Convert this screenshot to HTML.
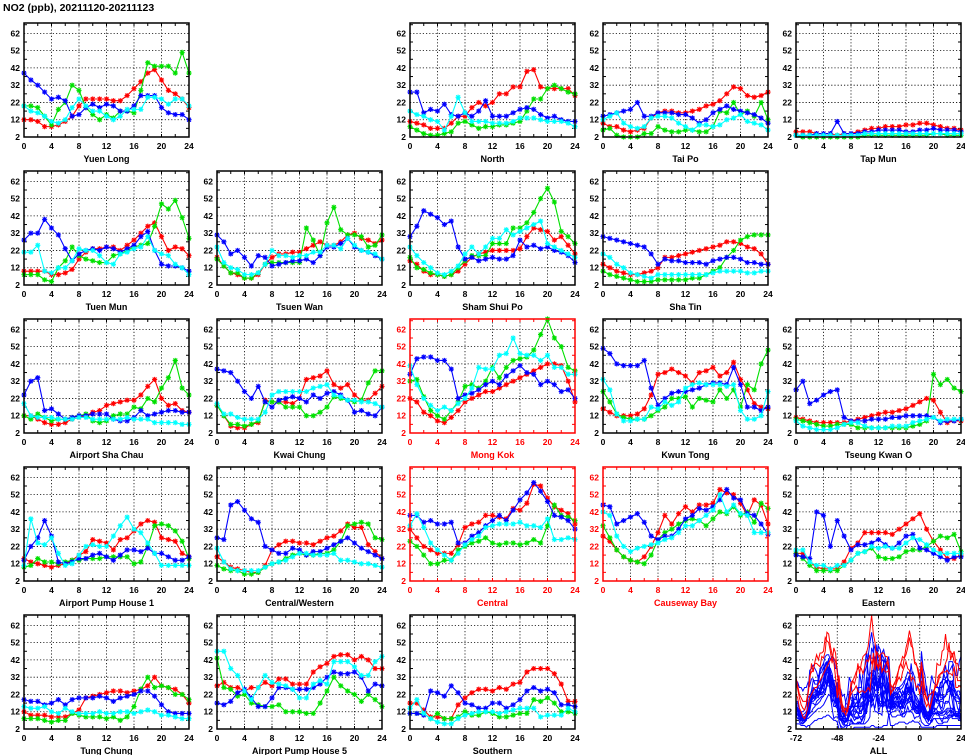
<!DOCTYPE html>
<html><head><meta charset="utf-8">
<style>
html,body{margin:0;padding:0;background:#fff;}
svg{display:block;font-family:"Liberation Sans",sans-serif;}
</style></head>
<body>
<svg id="chart" width="965" height="755" viewBox="0 0 965 755" xmlns="http://www.w3.org/2000/svg">
<text x="3" y="11" font-size="10.5" font-weight="bold" fill="#000">NO2 (ppb), 20211120-20211123</text>
</svg>
<script>
const stationNames = ["Yuen Long","North","Tai Po","Tap Mun","Tuen Mun","Tsuen Wan","Sham Shui Po","Sha Tin","Airport Sha Chau","Kwai Chung","Mong Kok","Kwun Tong","Tseung Kwan O","Airport Pump House 1","Central/Western","Central","Causeway Bay","Eastern","Tung Chung","Airport Pump House 5","Southern"];
const stationCells = [[0,0],[2,0],[3,0],[4,0],[0,1],[1,1],[2,1],[3,1],[0,2],[1,2],[2,2],[3,2],[4,2],[0,3],[1,3],[2,3],[3,3],[4,3],[0,4],[1,4],[2,4]];
const roadsideStations = ["Mong Kok","Central","Causeway Bay"];
const hours = [0,1,2,3,4,5,6,7,8,9,10,11,12,13,14,15,16,17,18,19,20,21,22,23,24];
const xTicks = [0,4,8,12,16,20,24];
const yTicks = [2,12,22,32,42,52,62];
const allXTicks = [-72,-48,-24,0,24];
const dayColors = ["#ff0000","#00e000","#0000ff","#00ffff"];
// series per station: day20(red), day21(green), day22(blue), day23(cyan)
const day20 = [
[12,12,11,8,8,9,11,14,20,24,24,24,24,23,23,26,30,34,39,41,35,29,27,24,19],
[11,10,9,7,7,7,10,14,14,19,22,20,22,27,27,31,31,40,41,31,30,30,30,30,26],
[10,8,8,6,5,6,7,13,16,17,17,16,16,17,18,20,21,23,27,31,30,26,25,26,28],
[5,5,5,4,4,4,3,4,4,5,6,7,7,8,8,8,9,9,10,10,9,8,7,7,6],
[10,10,10,10,8,8,9,11,17,21,23,23,24,24,22,25,28,32,36,38,30,22,24,23,19],
[18,13,9,8,6,6,8,14,18,20,20,21,21,23,25,27,25,25,27,31,32,29,28,26,28],
[16,14,10,8,8,7,8,10,14,18,20,21,22,22,22,22,23,30,35,34,33,28,30,25,20],
[14,12,10,9,8,8,9,10,12,18,18,19,20,21,22,23,24,25,27,27,26,24,23,20,14],
[12,12,10,8,7,7,8,10,11,12,14,15,18,19,20,21,21,24,29,33,22,18,19,15,14],
[18,12,6,5,5,7,8,21,20,20,20,19,22,33,34,35,38,30,28,30,24,21,21,25,29],
[22,20,14,12,9,8,11,15,20,22,24,26,26,28,30,32,34,36,38,40,42,42,41,32,20],
[16,14,12,12,12,13,16,24,36,37,39,37,35,31,37,38,40,35,37,43,33,27,19,17,16],
[11,10,9,8,8,8,8,8,9,10,11,12,13,14,14,15,16,18,20,22,21,14,8,9,9],
[15,13,12,11,10,11,12,14,17,19,26,25,24,20,26,27,31,35,37,36,27,26,25,18,16],
[16,13,10,9,8,7,7,11,20,23,25,25,24,24,23,25,27,28,31,35,33,33,23,19,15],
[32,27,22,20,18,18,18,23,33,35,36,40,40,39,38,44,43,47,58,57,50,45,43,41,35],
[28,25,20,16,14,13,16,22,30,40,35,41,45,42,46,46,47,55,53,52,47,40,49,46,35],
[18,18,13,10,9,9,9,13,21,24,30,30,30,30,29,32,35,38,41,32,25,20,15,15,17],
[12,10,10,10,9,9,9,11,13,20,21,22,23,24,24,23,24,25,27,32,27,26,25,22,17],
[27,29,26,26,24,26,26,29,27,31,31,28,28,28,35,38,40,44,45,45,42,44,42,37,37],
[17,17,13,9,9,8,8,16,20,23,25,25,24,26,25,28,29,35,37,37,37,34,28,18,18]];
const day21 = [
[20,20,19,14,9,18,22,32,29,19,15,12,15,13,17,17,16,29,45,43,43,43,39,51,39],
[8,6,4,3,3,4,5,10,11,9,7,8,8,9,9,10,11,17,24,24,30,32,30,28,27],
[6,7,3,2,2,2,4,4,8,6,5,5,6,6,5,5,8,17,16,22,15,17,14,22,12],
[3,2,2,2,2,2,2,2,2,2,3,3,3,3,3,3,3,3,3,3,4,4,3,3,3],
[8,8,8,5,4,12,16,24,19,17,16,15,15,19,20,22,24,25,26,36,49,46,51,41,29],
[17,13,9,9,6,6,9,14,15,15,15,15,15,35,28,19,38,47,34,31,31,30,24,25,31],
[18,12,11,9,8,7,8,12,16,19,19,19,26,26,26,35,35,38,44,52,58,50,33,30,26],
[10,8,7,6,5,4,4,4,5,5,5,5,5,6,6,8,10,12,18,22,28,30,31,31,31],
[12,10,13,11,9,10,10,11,12,13,9,8,9,12,13,13,17,16,22,20,28,34,44,28,24],
[18,12,7,7,6,7,9,20,20,20,17,17,17,12,12,14,17,23,22,21,20,21,31,38,38],
[32,33,23,15,12,10,15,20,29,30,28,32,40,34,40,44,45,46,50,59,68,57,52,40,38],
[26,20,13,11,10,10,10,12,15,17,22,22,23,17,22,21,20,27,22,27,17,30,27,42,50],
[10,9,8,7,6,6,7,7,7,5,5,5,5,5,5,5,5,6,7,9,36,30,33,28,26],
[10,11,15,13,13,12,13,14,14,15,15,15,16,16,16,16,12,13,22,34,35,34,31,25,15],
[11,9,8,8,6,6,7,10,12,13,15,17,18,17,17,18,18,20,25,34,35,36,35,27,26],
[25,22,17,12,12,14,14,20,22,24,25,27,24,23,24,24,23,24,26,24,34,46,40,39,37],
[34,27,20,16,14,13,12,17,26,30,32,35,37,38,37,34,38,42,41,45,40,42,36,47,44],
[18,15,11,8,8,8,8,11,14,18,19,21,16,15,15,16,19,20,20,22,25,28,27,29,19],
[8,8,8,7,6,7,7,11,10,9,9,9,8,9,7,9,15,25,32,26,27,26,22,22,19],
[43,26,25,21,22,17,16,15,15,16,12,12,12,11,11,17,24,32,27,24,22,18,22,19,15],
[11,11,11,8,11,8,8,9,12,10,10,12,11,9,9,10,11,11,19,18,20,17,12,12,11]];
const day22 = [
[39,35,32,28,24,25,23,14,15,19,21,19,21,20,17,17,20,26,26,26,19,16,15,15,12],
[28,28,16,18,17,21,15,14,16,14,17,23,14,14,14,16,18,19,18,15,13,14,12,11,11],
[14,15,16,17,18,22,14,14,16,16,16,15,15,13,10,12,16,18,20,18,17,16,15,13,10],
[3,3,3,4,4,4,11,4,4,4,5,5,6,6,6,6,5,5,6,6,7,6,6,6,5],
[28,32,32,40,35,31,23,16,20,22,23,22,24,23,21,23,25,30,33,22,14,13,13,12,10],
[31,27,20,22,18,13,19,18,13,14,15,16,16,17,15,19,24,24,26,29,24,22,21,19,17],
[30,36,45,43,41,37,39,24,17,18,16,17,18,17,17,19,28,24,25,23,24,22,21,19,15],
[30,29,28,27,26,25,24,20,14,17,16,16,15,15,15,14,16,17,18,18,17,15,15,14,14],
[24,32,34,15,16,13,10,11,12,12,13,13,13,10,9,9,11,15,12,13,14,15,15,14,14],
[39,38,37,32,26,22,29,20,17,21,22,23,22,20,24,22,25,26,24,21,14,15,13,12,17],
[36,45,46,46,44,44,39,22,24,25,27,30,32,30,35,38,41,37,36,30,32,30,26,27,22],
[51,48,42,41,41,41,44,28,18,22,25,26,26,27,28,30,31,31,30,40,30,17,17,15,17],
[27,32,19,21,24,26,27,11,9,9,9,10,10,10,11,11,12,12,12,12,11,8,9,9,10],
[14,22,27,37,28,13,12,13,15,15,17,18,16,14,17,20,20,19,21,18,18,16,14,14,16],
[27,26,46,48,43,38,36,22,20,18,18,21,20,17,19,19,21,23,25,27,24,21,19,17,15],
[40,40,36,37,35,35,36,24,24,28,30,34,37,40,37,43,49,53,59,54,48,40,39,37,32],
[46,45,35,37,39,41,36,28,26,28,28,32,38,40,44,43,45,49,55,50,49,41,40,35,29],
[17,16,15,42,40,22,37,28,20,23,23,24,26,23,21,24,28,29,21,20,18,16,14,16,16],
[19,18,18,16,17,19,16,19,20,20,20,21,20,18,20,21,22,24,24,21,16,12,11,11,11],
[17,16,18,23,25,20,15,15,20,26,26,25,25,25,26,28,32,35,34,34,35,32,24,28,27],
[11,11,10,24,23,21,27,23,17,16,14,14,17,17,14,16,19,24,26,24,25,23,16,16,15]];
const day23 = [
[20,17,16,14,11,10,12,19,24,20,17,17,14,12,14,18,18,18,25,25,24,21,24,24,20],
[17,15,14,12,11,6,14,25,16,11,11,11,10,10,10,11,13,13,13,12,11,11,11,10,8],
[12,14,16,10,8,7,8,13,14,14,13,10,8,6,9,9,8,9,12,13,15,11,10,9,6],
[3,3,3,3,3,3,3,3,3,3,4,4,4,4,4,4,4,4,4,4,4,4,4,4,4],
[21,21,25,10,9,12,12,16,23,22,22,19,15,14,20,21,23,24,30,22,20,19,14,12,8],
[24,15,12,11,8,8,9,14,22,19,19,18,19,19,21,21,25,25,23,29,25,22,21,20,17],
[24,19,15,12,9,8,10,13,20,24,20,24,29,29,34,31,33,35,37,39,26,24,22,20,18],
[20,18,14,12,9,8,7,6,8,8,8,8,8,8,8,8,9,10,10,10,10,9,9,10,10],
[19,12,11,11,11,10,10,10,11,11,10,10,10,10,10,11,10,10,10,8,8,8,8,7,7],
[19,13,13,11,10,10,10,14,24,26,26,26,26,26,28,29,30,24,23,21,21,20,20,19,17],
[41,30,22,18,15,17,15,19,22,28,40,39,39,47,48,57,48,47,47,44,47,40,40,36,36],
[33,27,13,9,9,10,10,17,16,20,18,20,28,30,31,30,30,30,29,30,15,10,10,12,26],
[9,6,5,4,4,4,5,7,8,8,6,5,5,5,6,6,6,8,9,10,11,9,10,10,10],
[11,38,24,23,27,18,11,12,17,22,23,22,22,28,34,39,32,30,24,18,11,11,11,11,11],
[21,13,9,8,8,8,8,10,12,13,14,16,18,18,17,17,17,18,14,14,13,12,12,11,10],
[34,41,33,24,20,17,14,18,23,26,28,33,34,35,35,35,36,34,34,33,38,26,26,27,26],
[42,40,28,22,19,21,22,23,24,26,27,30,34,34,37,40,43,52,42,46,41,40,30,30,30],
[20,20,13,11,11,9,11,11,14,18,19,22,21,22,21,21,24,27,26,23,20,18,18,18,18],
[15,14,14,15,12,11,14,12,11,11,11,12,11,11,12,12,11,12,13,12,10,10,9,8,8],
[47,47,37,33,24,19,26,33,29,28,27,25,20,20,28,30,28,41,41,41,38,33,33,41,44],
[14,19,11,8,6,5,5,8,10,11,12,12,12,11,12,13,14,14,14,9,10,10,10,14,12]];
const allDays = [day20, day21, day22, day23];

const NS = "http://www.w3.org/2000/svg";
const svg = document.getElementById("chart");
const Y_MIN = 2, Y_MAX = 68;
const PW = 165, PH = 114;
function colX(c){return 24 + 193*c;}
function rowBottom(r){return 137 + 148*r;}
function mk(tag, attrs, parent){
  const e = document.createElementNS(NS, tag);
  for (const k in attrs) e.setAttribute(k, attrs[k]);
  (parent||svg).appendChild(e);
  return e;
}
function slug(s){return s.toLowerCase().replace(/[^a-z0-9]+/g,'-').replace(/^-|-$/g,'');}

function drawPanel(cx, cy, name, xmin, xmax, xt, isRoad, seriesFn, markers){
  const x0 = colX(cx), yb = rowBottom(cy), yt = yb - PH;
  const xs = v => x0 + (v - xmin) / (xmax - xmin) * PW;
  const ys = v => yb - (v - Y_MIN) / (Y_MAX - Y_MIN) * PH;
  const fc = isRoad ? "#ff0000" : "#000";
  const g = mk("g", {});
  
  
  // grid
  xt.forEach(v => {
    if (v === xmin || v === xmax) return;
    const l = mk("line", {x1:xs(v), x2:xs(v), y1:yt, y2:yb, stroke:"#000", "stroke-width":0.8, "stroke-dasharray":"1.2,2"}, g);
    
    
  });
  yTicks.forEach(v => {
    if (v === Y_MIN) return;
    const l = mk("line", {x1:x0, x2:x0+PW, y1:ys(v), y2:ys(v), stroke:"#000", "stroke-width":0.8, "stroke-dasharray":"1.2,2"}, g);
    
    
  });
  // minor ticks
  const step = (xmax - xmin) / 24;
  for (let v = xmin; v <= xmax + 1e-9; v += step*2) {
    mk("line", {x1:xs(v), x2:xs(v), y1:yb, y2:yb-3, stroke:fc, "stroke-width":1}, g);
    mk("line", {x1:xs(v), x2:xs(v), y1:yt, y2:yt+3, stroke:fc, "stroke-width":1}, g);
  }
  for (let v = 7; v < Y_MAX; v += 10) {
    mk("line", {x1:x0, x2:x0+3, y1:ys(v), y2:ys(v), stroke:fc, "stroke-width":1}, g);
    mk("line", {x1:x0+PW, x2:x0+PW-3, y1:ys(v), y2:ys(v), stroke:fc, "stroke-width":1}, g);
  }
  // series
  seriesFn(g, xs, ys);
  // frame
  const fr = mk("rect", {x:x0, y:yt, width:PW, height:PH, fill:"none", stroke:fc, "stroke-width":1.5}, g);
  
  
  // tick labels
  xt.forEach(v => {
    const t = mk("text", {x:xs(v), y:yb+12, "font-size":8.5, "font-weight":"bold", "text-anchor":"middle", fill:fc}, g);
    t.textContent = v;
    
    
  });
  yTicks.forEach(v => {
    const t = mk("text", {x:x0-4, y:ys(v)+3, "font-size":8.5, "font-weight":"bold", "text-anchor":"end", fill:fc}, g);
    t.textContent = v;
    
    
  });
  const tt = mk("text", {x:x0+PW/2, y:yb+25, "font-size":9, "font-weight":"bold", "text-anchor":"middle", fill:fc}, g);
  tt.textContent = name;
  
  
}

function star(g, x, y, col){
  const r = 2.6;
  const d = `M${x-r},${y}H${x+r}M${x},${y-r}V${y+r}M${x-r*0.75},${y-r*0.75}L${x+r*0.75},${y+r*0.75}M${x-r*0.75},${y+r*0.75}L${x+r*0.75},${y-r*0.75}`;
  mk("path", {d:d, stroke:col, "stroke-width":1.1, fill:"none"}, g);
}

stationNames.forEach((name, si) => {
  const [cx, cy] = stationCells[si];
  drawPanel(cx, cy, name, 0, 24, xTicks, roadsideStations.includes(name), (g, xs, ys) => {
    allDays.forEach((day, di) => {
      const vals = day[si];
      const pts = vals.map((v, i) => xs(hours[i]) + "," + ys(v)).join(" ");
      const pl = mk("polyline", {points:pts, fill:"none", stroke:dayColors[di], "stroke-width":1.1}, g);
      
      
      vals.forEach((v, i) => star(g, xs(hours[i]), ys(v), dayColors[di]));
    });
  });
});

// ALL panel: 4 days concatenated, hours -72..24
drawPanel(4, 4, "ALL", -72, 24, allXTicks, false, (g, xs, ys) => {
  const order = stationNames.map((n, i) => i).sort((a, b) => roadsideStations.includes(stationNames[a]) - roadsideStations.includes(stationNames[b]));
  order.forEach(si => {
    const pts = [];
    allDays.forEach((day, di) => {
      day[si].forEach((v, i) => {
        if (di > 0 && i === 0) return;
        pts.push(xs(-72 + di*24 + hours[i]) + "," + ys(v));
      });
    });
    const road = roadsideStations.includes(stationNames[si]);
    const pl = mk("polyline", {points:pts.join(" "), fill:"none", stroke:road ? "#ff0000" : "#0000ff", "stroke-width":1}, g);
    
    
  });
});
</script>
</body></html>
